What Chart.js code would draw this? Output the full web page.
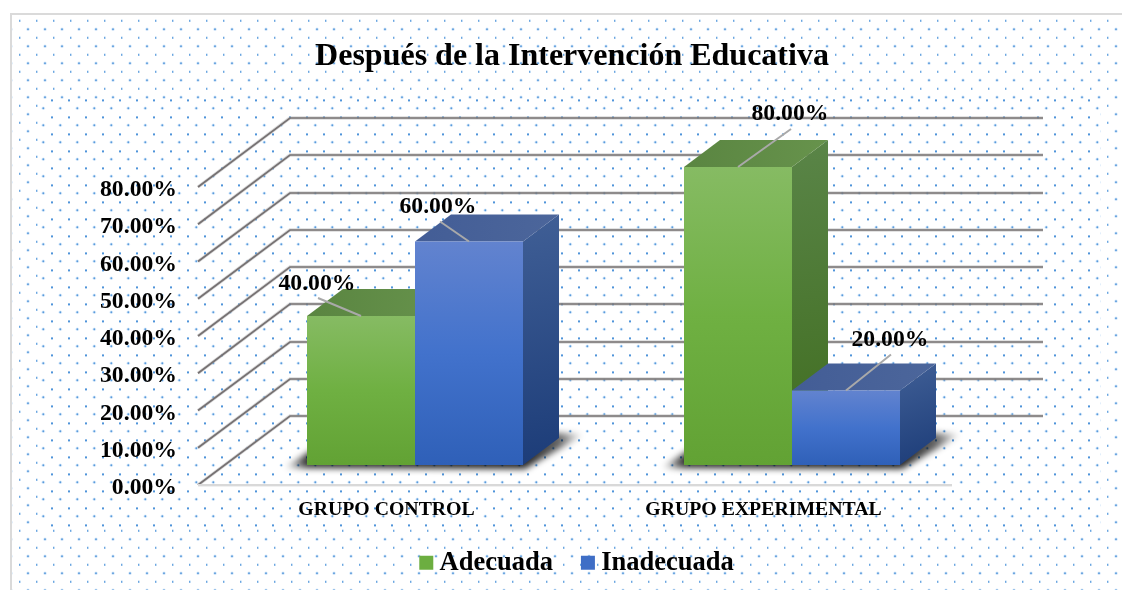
<!DOCTYPE html>
<html lang="es">
<head>
<meta charset="utf-8">
<title>Después de la Intervención Educativa</title>
<script src="https://cdn.jsdelivr.net/npm/chart.js@4"></script>
<style>
html,body{margin:0;padding:0;background:#fff;}
canvas{display:block;}
</style>
</head>
<body>
<canvas id="c" width="1122" height="590"></canvas>
<script>
const chartTitle = 'Después de la Intervención Educativa';
const categories = ['GRUPO CONTROL', 'GRUPO EXPERIMENTAL'];
const adecuada = [40, 80];
const inadecuada = [60, 20];
const seriesNames = ['Adecuada', 'Inadecuada'];
const yMax = 80;
const yStep = 10;

const SERIF = '"Liberation Serif","Times New Roman",serif';
// projection of the 3D look
const WALL = {dx: 92, dy: -69};   // front axis -> back wall
const PLANE = {dx: 28.5, dy: -20}; // front axis -> bar front plane
const DEPTH = {dx: 36, dy: -27};  // bar depth
const FRAME = {left: 198, right: 952, top: 187, bottom: 485};

const palette = [
  {front: ['#86bb63', '#6fb042', '#62a234'], top: ['#5a8541', '#67934c'], side: ['#5a8548', '#3f6c1e'], key: '#6cae40'},
  {front: ['#6283cf', '#4272cc', '#2f60b8'], top: ['#435d96', '#4c669b'], side: ['#405f96', '#1c3c78'], key: '#3f6ec6'}
];
// label centre and leader end, relative to the top centre of each bar [series][category]
const labelOffsets = [
  [{lx: -44, ly: -34, ex: -43, ey: -18}, {lx: 52, ly: -55, ex: 53, ey: -38}],
  [{lx: -31, ly: -37, ex: -29, ey: -20}, {lx: 44, ly: -53, ex: 45, ey: -36}]
];

function pctLabel(v) { return Number(v).toFixed(2) + '%'; }

function dotTile(draw) {
  const t = document.createElement('canvas');
  t.width = 17; t.height = 17;
  draw(t.getContext('2d'));
  return t;
}
function halo(g, x, y) {
  g.fillStyle = 'rgba(190,219,245,.55)';
  g.beginPath(); g.arc(x, y, 1.8, 0, Math.PI * 2); g.fill();
  g.fillStyle = '#5a9bdc';
  g.beginPath(); g.arc(x, y, 0.95, 0, Math.PI * 2); g.fill();
}
const outerTile = dotTile(g => {
  g.fillStyle = 'rgba(190,219,245,.5)'; g.fillRect(2, 2.6, 2, 2.4);
  g.fillStyle = '#4f94da'; g.fillRect(2.2, 2.8, 1, 2);
  halo(g, 11, 12.3);
});
const innerTile = dotTile(g => {
  g.fillStyle = '#4f94da'; g.fillRect(0, 14.4, 2, 2);
  halo(g, 9.3, 6.3);
});

const backgroundPlugin = {
  id: 'dottedBackground',
  beforeDraw(chart) {
    const c = chart.ctx;
    c.save();
    c.fillStyle = '#fff';
    c.fillRect(0, 0, chart.width, chart.height);
    c.fillStyle = c.createPattern(outerTile, 'repeat');
    c.fillRect(10, 14, chart.width - 10, chart.height - 14);
    c.fillStyle = '#fff';
    c.fillRect(39, 99, 1061, 428);
    c.fillStyle = c.createPattern(innerTile, 'repeat');
    c.fillRect(39, 99, 1061, 428);
    c.fillStyle = '#dadada';
    c.fillRect(10, 13, chart.width - 10, 2);
    c.fillRect(10, 13, 2, chart.height - 13);
    c.restore();
  }
};

const layoutShiftPlugin = {
  id: 'layoutShift',
  afterLayout(chart) {
    // centre the title and the legend where the figure has them
    const shift = (box, centre) => {
      const d = centre - (box.left + box.right) / 2;
      box.left += d; box.right += d;
    };
    shift(chart.titleBlock, 572);
    shift(chart.legend, 580);
    chart.legend.top -= 4; chart.legend.bottom -= 4;
    // let the category labels use the room above the legend
    chart.scales.x.bottom = chart.scales.x.top + 50;
  }
};

function vGrad(c, y0, y1, stops) {
  const g = c.createLinearGradient(0, y0, 0, y1);
  stops.forEach((s, i) => g.addColorStop(i / (stops.length - 1), s));
  return g;
}
function poly(c, pts, fill) {
  c.beginPath();
  pts.forEach((p, i) => i ? c.lineTo(p[0], p[1]) : c.moveTo(p[0], p[1]));
  c.closePath();
  c.fillStyle = fill;
  c.fill();
}

const solidPlugin = {
  id: 'solid3d',
  beforeDatasetsDraw(chart) {
    const c = chart.ctx;
    const y = chart.scales.y;
    const area = chart.chartArea;
    c.save();
    // walls: back grid lines and the left diagonals
    y.ticks.forEach(t => {
      const py = y.getPixelForValue(t.value);
      const by = Math.round(py + WALL.dy);
      const path = () => {
        c.beginPath();
        c.moveTo(area.left, py);
        c.lineTo(area.left + WALL.dx, by);
        c.lineTo(area.right + WALL.dx - 1, by);
      };
      path(); c.strokeStyle = 'rgba(170,170,170,.45)'; c.lineWidth = 3.4; c.stroke();
      path(); c.strokeStyle = '#767172'; c.lineWidth = 1.7; c.stroke();
    });
    // floor line at the front
    const fy = y.getPixelForValue(0);
    c.fillStyle = '#d9d9d9';
    c.fillRect(area.left, fy - 1, area.right - area.left, 2.4);

    c.translate(PLANE.dx, PLANE.dy);
    const metas = [chart.getDatasetMeta(0), chart.getDatasetMeta(1)];
    // floor shadow of each group
    categories.forEach((_, j) => {
      const a = metas[0].data[j], b = metas[1].data[j];
      const x0 = a.x - a.width / 2, x1 = b.x + b.width / 2, base = a.base;
      const g = c.createLinearGradient(x0 - 22, 0, x1 + 60, 0);
      const w = x1 + 82 - x0;
      g.addColorStop(0, 'rgba(0,0,0,0)');
      g.addColorStop(22 / w, 'rgba(0,0,0,.8)');
      g.addColorStop((w - 60) / w, 'rgba(0,0,0,.85)');
      g.addColorStop((w - 24) / w, 'rgba(0,0,0,.6)');
      g.addColorStop(1, 'rgba(0,0,0,0)');
      c.save();
      c.filter = 'blur(3px)';
      poly(c, [[x0 - 24, base + 3], [x1 + 2, base + 4], [x1 + 62, base - 31], [x1 + 30, base - 32], [x0 + 20, base - 24]], g);
      c.restore();
    });
    // depth faces, series by series
    categories.forEach((_, j) => {
      metas.forEach((m, s) => {
        const e = m.data[j], p = palette[s];
        const xl = e.x - e.width / 2, xr = e.x + e.width / 2;
        const top = c.createLinearGradient(xl, 0, xr + DEPTH.dx, 0);
        top.addColorStop(0, p.top[0]); top.addColorStop(1, p.top[1]);
        const side = c.createLinearGradient(xr, e.y + DEPTH.dy, xr + DEPTH.dx, e.base);
        side.addColorStop(0, p.side[0]); side.addColorStop(1, p.side[1]);
        poly(c, [[xr, e.y], [xr + DEPTH.dx, e.y + DEPTH.dy], [xr + DEPTH.dx, e.base + DEPTH.dy], [xr, e.base]], side);
        poly(c, [[xl, e.y], [xl + DEPTH.dx, e.y + DEPTH.dy], [xr + DEPTH.dx, e.y + DEPTH.dy], [xr, e.y]], top);
      });
    });
    c.restore();
    // bars themselves are drawn by the library on the shifted plane
    c.save();
    c.translate(PLANE.dx, PLANE.dy);
  },
  afterDatasetsDraw(chart) {
    const c = chart.ctx;
    categories.forEach((_, j) => {
      [0, 1].forEach(s => {
        const e = chart.getDatasetMeta(s).data[j];
        const o = labelOffsets[s][j];
        c.beginPath();
        c.moveTo(e.x, e.y);
        c.lineTo(e.x + o.ex, e.y + o.ey);
        c.strokeStyle = '#a9a9a9';
        c.lineWidth = 2;
        c.stroke();
      });
    });
    categories.forEach((_, j) => {
      [0, 1].forEach(s => {
        const e = chart.getDatasetMeta(s).data[j];
        const o = labelOffsets[s][j];
        const v = chart.data.datasets[s].data[j];
        c.font = 'bold 23.7px ' + SERIF;
        c.fillStyle = '#000';
        c.textAlign = 'center';
        c.textBaseline = 'middle';
        c.fillText(pctLabel(v), e.x + o.lx, e.y + o.ly + 2);
      });
    });
    c.restore();
  }
};

function frontFill(s) {
  return ctx => {
    const chart = ctx.chart;
    const y = chart.scales.y;
    if (!y || ctx.parsed === undefined || !ctx.parsed) return palette[s].key;
    return vGrad(chart.ctx, y.getPixelForValue(ctx.parsed.y), y.getPixelForValue(0), palette[s].front);
  };
}

new Chart(document.getElementById('c'), {
  type: 'bar',
  data: {
    labels: categories,
    datasets: [
      {label: seriesNames[0], data: adecuada, backgroundColor: frontFill(0), borderWidth: 0},
      {label: seriesNames[1], data: inadecuada, backgroundColor: frontFill(1), borderWidth: 0}
    ]
  },
  plugins: [backgroundPlugin, layoutShiftPlugin, solidPlugin],
  options: {
    responsive: false,
    animation: false,
    events: [],
    devicePixelRatio: 1,
    categoryPercentage: 216 / 377,
    barPercentage: 1,
    layout: {padding: {left: 0, right: 1122 - FRAME.right, top: 0, bottom: 0}},
    scales: {
      x: {
        grid: {display: false, drawTicks: false},
        border: {display: false},
        ticks: {color: '#000', padding: 13, maxRotation: 0, autoSkip: false, font: {family: SERIF, weight: 'bold', size: 19.8}},
        afterFit(s) { s.height = 590 - FRAME.bottom - s.chart.legend.height; }
      },
      y: {
        min: 0,
        max: yMax,
        grid: {display: false, drawTicks: false},
        border: {display: false},
        afterFit(s) { s.width = FRAME.left; },
        ticks: {
          stepSize: yStep,
          color: '#000',
          padding: 21,
          labelOffset: 3,
          font: {family: SERIF, weight: 'bold', size: 23.7},
          callback: v => pctLabel(v)
        }
      }
    },
    plugins: {
      tooltip: {enabled: false},
      title: {
        display: true,
        text: chartTitle,
        color: '#000',
        font: {family: SERIF, weight: 'bold', size: 32, lineHeight: 1.2},
        padding: {top: 38, bottom: FRAME.top - 38 - 38.4}
      },
      legend: {
        display: true,
        position: 'bottom',
        labels: {
          usePointStyle: true,
          pointStyle: 'rect',
          boxWidth: 0.01,
          boxHeight: 14,
          padding: 35,
          color: '#000',
          font: {family: SERIF, weight: 'bold', size: 26.5},
          generateLabels(chart) {
            return chart.data.datasets.map((d, i) => ({
              text: d.label, fillStyle: palette[i].key, strokeStyle: palette[i].key,
              lineWidth: 0, pointStyle: 'rect', datasetIndex: i, fontColor: '#000', hidden: false
            }));
          }
        }
      }
    }
  }
});
</script>
</body>
</html>
